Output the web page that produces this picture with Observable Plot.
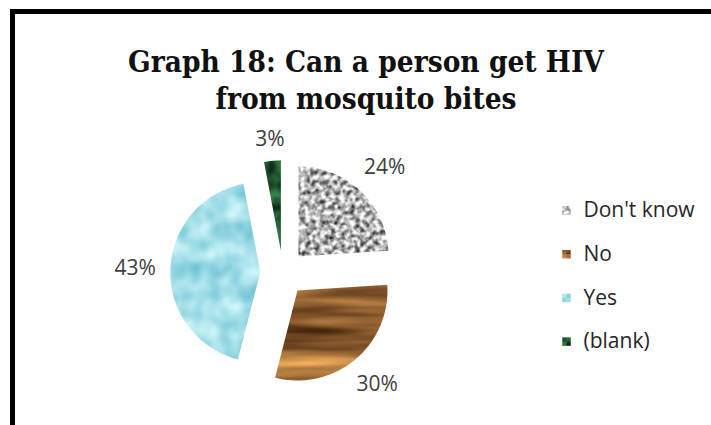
<!DOCTYPE html>
<html>
<head>
<meta charset="utf-8">
<script src="https://cdn.jsdelivr.net/npm/d3@7"></script>
<script src="https://cdn.jsdelivr.net/npm/@observablehq/plot@0.6"></script>
<style>
  html, body { margin: 0; padding: 0; background: #fff; width: 711px; height: 425px; overflow: hidden; }
  #frame { position: absolute; left: 10px; top: 9px; width: 760px; height: 480px;
           border-left: 5px solid #000; border-top: 5px solid #000; }
  #chart { position: absolute; left: 0; top: 0; }
  #title { position: absolute; left: 0; top: 43px; width: 732px; text-align: center;
           font-family: "DejaVu Serif Condensed", "DejaVu Serif", serif; font-stretch: condensed;
           font-weight: bold; font-size: 29.5px; line-height: 37px; color: #111; }
</style>
</head>
<body>
<!-- texture fills for the slices -->
<svg width="0" height="0" style="position:absolute">
  <defs>
    <filter id="fGranite" x="0" y="0" width="1" height="1" color-interpolation-filters="sRGB">
      <feTurbulence type="fractalNoise" baseFrequency="0.2" numOctaves="3" seed="4"/>
      <feColorMatrix type="matrix" values="1.8 0 0 0 -0.2  1.8 0 0 0 -0.2  1.8 0 0 0 -0.2  0 0 0 0 1"/>
    </filter>
    <filter id="fWood" x="0" y="0" width="1" height="1" color-interpolation-filters="sRGB">
      <feTurbulence type="fractalNoise" baseFrequency="0.005 0.06" numOctaves="3" seed="7"/>
      <feColorMatrix type="matrix" values="1.0 0 0 0 0.08  0.8 0 0 0 -0.01  0.45 0 0 0 -0.03  0 0 0 0 1"/>
    </filter>
    <filter id="fWater" x="0" y="0" width="1" height="1" color-interpolation-filters="sRGB">
      <feTurbulence type="fractalNoise" baseFrequency="0.05" numOctaves="2" seed="3"/>
      <feColorMatrix type="matrix" values="0.55 0 0 0 0.36  0.3 0 0 0 0.72  0.22 0 0 0 0.8  0 0 0 0 1"/>
    </filter>
    <filter id="fMoss" x="0" y="0" width="1" height="1" color-interpolation-filters="sRGB">
      <feTurbulence type="fractalNoise" baseFrequency="0.08" numOctaves="2" seed="9"/>
      <feColorMatrix type="matrix" values="0.3 0 0 0 -0.02  0.6 0 0 0 0.05  0.35 0 0 0 0.02  0 0 0 0 1"/>
    </filter>
    <pattern id="granite" patternUnits="userSpaceOnUse" width="711" height="425">
      <rect width="711" height="425" fill="#aaa" filter="url(#fGranite)"/>
    </pattern>
    <pattern id="wood" patternUnits="userSpaceOnUse" width="711" height="425">
      <rect width="711" height="425" fill="#8a5a2c" filter="url(#fWood)"/>
    </pattern>
    <pattern id="water" patternUnits="userSpaceOnUse" width="711" height="425">
      <rect width="711" height="425" fill="#a3dde8" filter="url(#fWater)"/>
    </pattern>
    <pattern id="moss" patternUnits="userSpaceOnUse" width="711" height="425">
      <rect width="711" height="425" fill="#1d5a33" filter="url(#fMoss)"/>
    </pattern>
  </defs>
</svg>
<div id="frame"></div>
<div id="chart"></div>
<div id="title">Graph 18: Can a person get HIV<br>from mosquito bites</div>
<script>
// Survey answers (percent of respondents)
const categories = ["Don't know", "No", "Yes", "(blank)"];
const shares = [24, 30, 43, 3];

// Texture used for each answer
const fills = {
  "Don't know": "url(#granite)",
  "No": "url(#wood)",
  "Yes": "url(#water)",
  "(blank)": "url(#moss)"
};

// Page geometry
const W = 711, H = 425;
const cx = 282.5, cy = 272.5, R = 90, explode = 22.7;
const labelGap = 14, labelSize = 21;
const legendX = 566, legendTop = 210, legendStep = 43.7;

// Exploded pie: every slice is pushed out along its mid angle
const arcs = d3.pie().sort(null).value(d => d)(shares);
const slices = [];
const labels = [];
arcs.forEach((a, i) => {
  const key = categories[i];
  const mid = (a.startAngle + a.endAngle) / 2;
  const dx = Math.sin(mid), dy = -Math.cos(mid);
  const ox = cx + explode * dx, oy = cy + explode * dy;
  const n = Math.max(4, Math.ceil((a.endAngle - a.startAngle) / 0.02));
  slices.push({key, x: ox, y: oy});
  for (let k = 0; k <= n; k++) {
    const t = a.startAngle + (a.endAngle - a.startAngle) * k / n;
    slices.push({key, x: ox + R * Math.sin(t), y: oy - R * Math.cos(t)});
  }
  slices.push({key, x: ox, y: oy});
  // value label just outside the slice, its box kept clear of the arc
  const text = `${shares[i]}%`;
  const hw = text.length * 7, hh = 6;
  const dist = R + explode + labelGap + hw * Math.abs(dx) + hh * Math.abs(dy);
  labels.push({text, x: cx + dist * dx + 4 * dx * Math.abs(dy), y: cy + dist * dy});
});

const chart = Plot.plot({
  width: W,
  height: H,
  margin: 0,
  x: {domain: [0, W], range: [0, W], axis: null},
  y: {domain: [0, H], range: [0, H], axis: null},
  color: {type: "ordinal", domain: categories, range: categories.map(c => fills[c])},
  style: {background: "transparent", fontFamily: "'Open Sans', sans-serif"},
  marks: [
    Plot.line(slices, {x: "x", y: "y", z: "key", fill: "key", stroke: "none"}),
    Plot.text(labels, {x: "x", y: "y", text: "text", fontSize: labelSize, fill: "#404040"}),
    Plot.dot(categories, {
      x: () => legendX, y: (d, i) => legendTop + i * legendStep,
      symbol: "square", r: 4.8, fill: d => d, stroke: "none"
    }),
    Plot.text(categories, {
      x: () => legendX + 17, y: (d, i) => legendTop + i * legendStep,
      text: d => d, textAnchor: "start", fontSize: labelSize, fill: "#262626"
    })
  ]
});
document.getElementById("chart").append(chart);
</script>
</body>
</html>
